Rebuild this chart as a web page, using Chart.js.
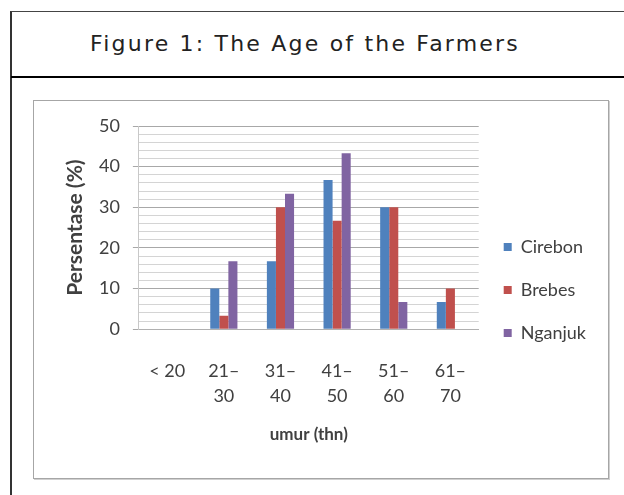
<!DOCTYPE html>
<html>
<head>
<meta charset="utf-8">
<script src="https://cdn.jsdelivr.net/npm/chart.js@4/dist/chart.umd.min.js"></script>
<style>
    body { margin: 0; background: #fff; }
    #page { position: relative; width: 624px; height: 495px; overflow: hidden; }
    #frame { position: absolute; left: 10px; top: 11px; width: 700px; height: 600px;
             border-left: 2px solid #333; border-top: 1px solid #444; }
    #sep { position: absolute; left: 11px; top: 76px; width: 700px; height: 0;
           border-top: 2px solid #000; }
    #title { position: absolute; left: 11px; top: 12px; width: 588px; height: 64px;
             line-height: 64px; text-align: center; font-family: "DejaVu Sans", sans-serif;
             font-size: 22px; letter-spacing: 2.2px; color: #222; }
    #box { position: absolute; left: 33px; top: 100px; width: 574px; height: 377px;
           border: 1px solid #a6a6a6; box-shadow: 1px 1px 0 #d0d0d0; background: #fff; }
    #box canvas { position: absolute; left: 0; top: 0; }
</style>
</head>
<body>
<div id="page">
    <div id="frame"></div>
    <div id="sep"></div>
    <div id="title">Figure 1: The Age of the Farmers</div>
    <div id="box"><canvas id="ageChart" width="574" height="377"></canvas></div>
</div>
<script>
// data
const ageGroups = [['< 20'], ['21\u2013', '30'], ['31\u2013', '40'], ['41\u2013', '50'], ['51\u2013', '60'], ['61\u2013', '70']];
const cirebon = [0, 10, 16.7, 36.7, 30, 6.7];
const brebes = [0, 3.3, 30, 26.7, 30, 10];
const nganjuk = [0, 16.7, 33.3, 43.3, 6.7, 0];
const yTicks = [0, 10, 20, 30, 40, 50];

const fontFamily = 'Lato, "Open Sans", sans-serif';
const textColor = '#404040';

function makeDataset(label, values, color) {
    return {
        label: label,
        data: values,
        backgroundColor: color,
        borderWidth: 0,
        categoryPercentage: 0.48,
        barPercentage: 1.0
    };
}

const ctx = document.getElementById('ageChart').getContext('2d');
const ageChart = new Chart(ctx, {
    type: 'bar',
    data: {
        labels: ageGroups,
        datasets: [
            makeDataset('Cirebon', cirebon, '#4F81BD'),
            makeDataset('Brebes', brebes, '#C0504D'),
            makeDataset('Nganjuk', nganjuk, '#8064A2')
        ]
    },
    options: {
        responsive: false,
        animation: false,
        devicePixelRatio: 1,
        layout: {
            padding: { top: 25, right: 12, bottom: 24, left: 24 }
        },
        plugins: {
            tooltip: { enabled: false },
            legend: {
                position: 'right',
                labels: {
                    boxWidth: 8,
                    boxHeight: 8,
                    padding: 25,
                    color: textColor,
                    font: { family: fontFamily, size: 18 }
                }
            }
        },
        scales: {
            x: {
                // no grid lines, but the tick length pushes the labels down
                grid: { display: false, drawTicks: true, tickLength: 20 },
                border: { color: '#b0b0b0' },
                ticks: {
                    padding: 9,
                    color: textColor,
                    maxRotation: 0,
                    autoSkip: false,
                    font: { family: fontFamily, size: 18, lineHeight: 1.4 }
                },
                title: {
                    display: true,
                    text: 'umur (thn)',
                    color: textColor,
                    padding: { top: 7, bottom: 9 },
                    font: { family: fontFamily, size: 17, weight: 'bold' }
                }
            },
            y: {
                min: 0,
                max: 50,
                border: { color: '#c8c8c8' },
                grid: {
                    tickLength: 6,
                    color: function(c) {
                        return yTicks.includes(c.tick.value) ? '#a8a8a8' : '#d4d4d4';
                    },
                    tickColor: function(c) {
                        return yTicks.includes(c.tick.value) ? '#a8a8a8' : 'rgba(0,0,0,0)';
                    }
                },
                ticks: {
                    stepSize: 2,
                    autoSkip: false,
                    padding: 13,
                    color: textColor,
                    font: { family: fontFamily, size: 18 },
                    callback: function(value) {
                        return yTicks.includes(value) ? String(value) : '';
                    }
                },
                title: {
                    display: true,
                    text: 'Persentase (%)',
                    color: textColor,
                    padding: { top: 7, bottom: 0 },
                    font: { family: fontFamily, size: 21, weight: 'bold', lineHeight: 1.0 }
                }
            }
        }
    }
});
</script>
</body>
</html>
